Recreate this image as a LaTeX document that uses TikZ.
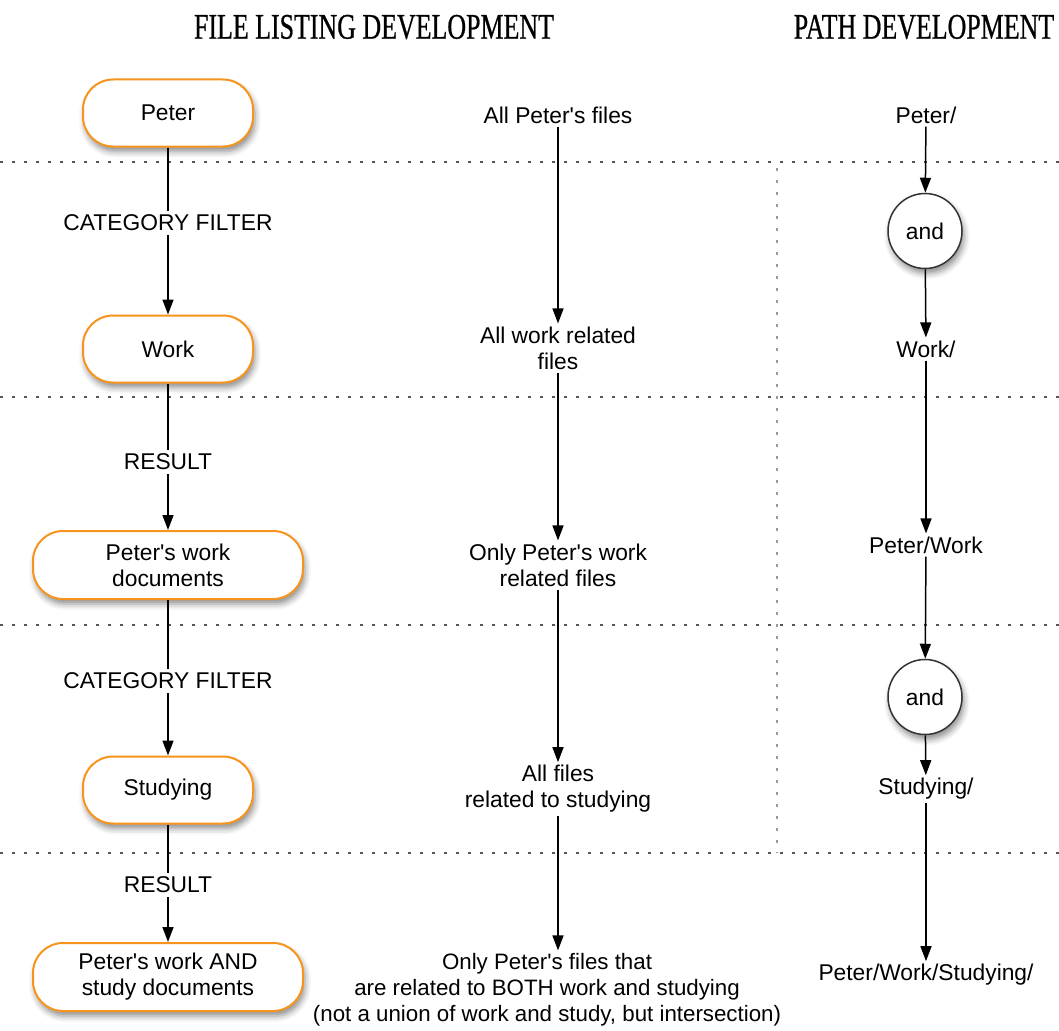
\documentclass[tikz,border=0pt]{standalone}
\usepackage{fontspec}
\setmainfont{Liberation Sans}[Ligatures=TeXOff]
\newfontfamily\titlefont[FakeStretch=0.72,FakeBold=0.6]{Liberation Serif}
\usetikzlibrary{arrows.meta,shadows.blur,shapes.geometric}
\definecolor{boxorange}{HTML}{F7941D}
\definecolor{dotgray}{HTML}{555555}
\tikzset{
  stepbox/.style={draw=boxorange, line width=2pt, fill=white, rounded corners=30pt,
    minimum width=170pt, minimum height=67pt, align=center,
    font=\fontsize{22.8}{26}\selectfont,
    blur shadow={shadow xshift=2pt, shadow yshift=-5pt, shadow blur radius=6pt, shadow opacity=45}},
  widebox/.style={stepbox, minimum width=270pt, minimum height=68pt},
  andnode/.style={draw=black!80, line width=1.5pt, fill=white, ellipse, minimum width=74pt,
    minimum height=75pt, inner sep=0pt, font=\fontsize{22.8}{26}\selectfont,
    blur shadow={shadow xshift=2pt, shadow yshift=-5pt, shadow blur radius=6pt, shadow opacity=45}},
  txt/.style={align=center, inner sep=3pt, font=\fontsize{22.8}{26}\selectfont},
  lab/.style={txt, fill=white, inner sep=4pt},
  arr/.style={line width=1.5pt, -{Triangle[width=11pt,length=15pt]}},
  plain/.style={line width=1.5pt},
  sep/.style={dotgray, line width=2.5pt, dash pattern=on 3pt off 9pt},
  vsep/.style={black!40, line width=2.5pt, dash pattern=on 3pt off 9pt},
  heading/.style={font=\titlefont\fontsize{36}{40}\selectfont}
}
\begin{document}
\begin{tikzpicture}[x=1pt,y=-1pt]
\useasboundingbox (0,0) rectangle (1059,1030);

% column headings
\node[heading] (h1) at (374,27) {FILE LISTING DEVELOPMENT};
\node[heading] (h2) at (924,27) {PATH DEVELOPMENT};

% dotted separators
\foreach \yy in {162,397,625,853}
  \draw[sep] (0,\yy) -- (1059,\yy);
\draw[vsep] (777,168) -- (777,853);

% left column: filter chain
\node[stepbox] (peter) at (168,113) {Peter};
\node[stepbox] (work) at (168,349) {Work};
\node[widebox] (pwd) at (168,565) {Peter's work\\documents};
\node[stepbox] (study) at (168,790) {Studying};
\node[widebox] (both) at (168,977) {Peter's work AND\\study documents};

\node[lab] (l1) at (168,223) {CATEGORY FILTER};
\node[lab] (l2) at (168,462) {RESULT};
\node[lab] (l3) at (168,681) {CATEGORY FILTER};
\node[lab] (l4) at (168,885) {RESULT};

\draw[plain] (peter) -- (l1);
\draw[arr] (l1) -- (work);
\draw[plain] (work) -- (l2);
\draw[arr] (l2) -- (pwd);
\draw[plain] (pwd) -- (l3);
\draw[arr] (l3) -- (study);
\draw[plain] (study) -- (l4);
\draw[arr] (l4) -- (both);

% middle column: resulting file listings
\node[txt] (m1) at (558,115) {All Peter's files};
\node[txt] (m2) at (558,348) {All work related\\files};
\node[txt] (m3) at (558,565) {Only Peter's work\\related files};
\node[txt] (m4) at (558,789) {All files\\related to studying};
\node[txt, font=\fontsize{22.3}{26}\selectfont] (m5) at (547,990)
  {Only Peter's files that\\are related to BOTH work and studying\\(not a union of work and study, but intersection)};

\draw[arr] (m1) -- (m2);
\draw[arr] (m2) -- (m3);
\draw[arr] (m3) -- (m4);
\draw[arr] (m4) -- (m4 |- m5.north);

% right column: path development
\node[txt] (p1) at (926,115) {Peter/};
\node[andnode] (and1) at (925,231) {and};
\node[txt] (p2) at (926,349) {Work/};
\node[txt] (p3) at (926,545) {Peter/Work};
\node[andnode] (and2) at (925,697) {and};
\node[txt] (p4) at (926,789) {Studying/};
\node[txt] (p5) at (926,975) {Peter/Work/Studying/};

\draw[arr] (p1) -- (and1);
\draw[arr] (and1) -- (p2);
\draw[arr] (p2) -- (p3);
\draw[arr] (p3) -- (and2);
\draw[arr] (and2) -- (p4);
\draw[arr] (p4) -- (p5);
\end{tikzpicture}
\end{document}
